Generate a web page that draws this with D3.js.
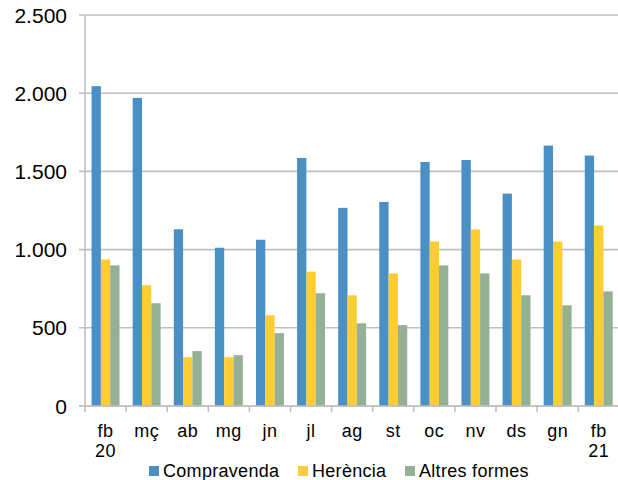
<!DOCTYPE html>
<html>
<head>
<meta charset="utf-8">
<script src="https://cdn.jsdelivr.net/npm/d3@7"></script>
<style>
  body { margin: 0; background: #fff; }
  text { font-family: "Liberation Sans", Arial, sans-serif; fill: #000; }
</style>
</head>
<body>
<div id="chart"></div>
<script>
// months, feb 2020 to feb 2021
const months = [["fb", "20"], ["mç"], ["ab"], ["mg"], ["jn"], ["jl"], ["ag"], ["st"], ["oc"], ["nv"], ["ds"], ["gn"], ["fb", "21"]];
const seriesNames = ["Compravenda", "Herència", "Altres formes"];
const compravenda = [2045, 1970, 1130, 1012, 1063, 1586, 1267, 1305, 1560, 1573, 1358, 1665, 1601];
const herencia = [937, 772, 312, 312, 580, 859, 708, 848, 1052, 1129, 937, 1052, 1154];
const altres = [899, 657, 351, 325, 466, 721, 529, 517, 899, 848, 708, 644, 733];
const yTicks = [0, 500, 1000, 1500, 2000, 2500];
const colors = ["#4a90c4", "#ffcc33", "#95b195"];

const width = 618, height = 480;
const margin = { top: 15, right: 0, bottom: 73, left: 85 };

const svg = d3.select("#chart").append("svg")
    .attr("width", width)
    .attr("height", height);

const x = d3.scaleBand()
    .domain(d3.range(months.length))
    .range([margin.left, margin.left + 13 * 41.1])
    .padding(0);

const sub = d3.scaleBand()
    .domain(d3.range(3))
    .range([x.bandwidth() * 0.16, x.bandwidth() * 0.84]);

const y = d3.scaleLinear()
    .domain([0, 2500])
    .range([height - margin.bottom - 1, margin.top]);

// gridlines
svg.append("g")
    .selectAll("line")
    .data(yTicks)
    .enter()
    .append("line")
    .attr("x1", margin.left - 6)
    .attr("x2", width)
    .attr("y1", d => y(d))
    .attr("y2", d => y(d))
    .attr("stroke", "#c0c0c0")
    .attr("stroke-width", 1.6);

// y labels
svg.append("g")
    .selectAll("text")
    .data(yTicks)
    .enter()
    .append("text")
    .attr("x", 67)
    .attr("y", d => y(d))
    .attr("dy", "0.36em")
    .attr("text-anchor", "end")
    .style("font-size", "21px")
    .text(d => d3.format(",")(d).replace(/,/g, "."));

// bars
const data = months.map((m, i) => [compravenda[i], herencia[i], altres[i]]);
const groups = svg.append("g")
    .selectAll("g")
    .data(data)
    .enter()
    .append("g")
    .attr("transform", (d, i) => `translate(${x(i)},0)`);

groups.selectAll("rect")
    .data(d => d)
    .enter()
    .append("rect")
    .attr("x", (d, j) => sub(j))
    .attr("width", sub.bandwidth())
    .attr("y", d => y(d))
    .attr("height", d => y(0) - y(d))
    .attr("fill", (d, j) => colors[j]);

// axes lines
svg.append("line")
    .attr("x1", margin.left).attr("x2", margin.left)
    .attr("y1", margin.top).attr("y2", y(0) + 6)
    .attr("stroke", "#c0c0c0").attr("stroke-width", 1.6);

svg.append("line")
    .attr("x1", margin.left - 6).attr("x2", width)
    .attr("y1", y(0)).attr("y2", y(0))
    .attr("stroke", "#c0c0c0").attr("stroke-width", 1.6);

svg.append("g")
    .selectAll("line")
    .data(d3.range(1, months.length + 1))
    .enter()
    .append("line")
    .attr("x1", d => margin.left + d * x.step())
    .attr("x2", d => margin.left + d * x.step())
    .attr("y1", y(0))
    .attr("y2", y(0) + 6)
    .attr("stroke", "#c0c0c0").attr("stroke-width", 1.6);

// category labels
const lbl = svg.append("g")
    .selectAll("text")
    .data(months)
    .enter()
    .append("text")
    .attr("x", (d, i) => x(i) + x.bandwidth() / 2)
    .attr("y", 437)
    .attr("text-anchor", "middle")
    .style("font-size", "18px")
    .style("letter-spacing", "0.5px");

lbl.selectAll("tspan")
    .data(d => d)
    .enter()
    .append("tspan")
    .attr("x", function () { return this.parentNode.getAttribute("x"); })
    .attr("dy", (d, k) => k === 0 ? 0 : 20)
    .text(d => d);

// legend
const legX = [149, 298, 405];
const leg = svg.append("g")
    .selectAll("g")
    .data(seriesNames)
    .enter()
    .append("g")
    .attr("transform", (d, i) => `translate(${legX[i]},466)`);

leg.append("rect")
    .attr("width", 10)
    .attr("height", 10)
    .attr("fill", (d, i) => colors[i]);

leg.append("text")
    .attr("x", 14)
    .attr("y", 11)
    .style("font-size", "18px")
    .style("letter-spacing", "0.3px")
    .text(d => d);
</script>
</body>
</html>
